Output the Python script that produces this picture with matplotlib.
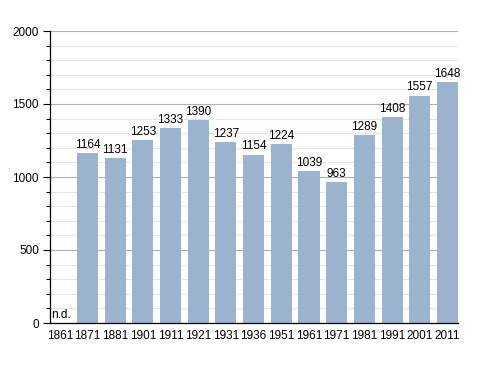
import matplotlib.pyplot as plt
import numpy as np

years = ["1861", "1871", "1881", "1901", "1911", "1921", "1931", "1936",
         "1951", "1961", "1971", "1981", "1991", "2001", "2011"]
population = [None, 1164, 1131, 1253, 1333, 1390, 1237, 1154,
              1224, 1039, 963, 1289, 1408, 1557, 1648]

plt.rcParams["font.family"] = ["Liberation Sans", "DejaVu Sans"]
fs = 8.5

fig = plt.figure(figsize=(4.88, 3.73), dpi=100)
ax = fig.add_axes([50 / 488, 1 - 323 / 373, 408 / 488, 292 / 373])

x = np.arange(len(years))
vals = [v if v is not None else 0 for v in population]
bar_color = "#9cb3cf"
ax.bar(x, vals, width=0.76, color=bar_color, zorder=3)

for xi, v in zip(x, population):
    if v is None:
        ax.text(xi - 0.32, 12, "n.d.", ha="left", va="bottom", fontsize=fs, zorder=4)
    else:
        ax.text(xi, v + 15, str(v), ha="center", va="bottom", fontsize=fs, zorder=4)

ax.set_xlim(-0.354, len(years) - 1 + 0.38)
ax.set_ylim(0, 2000)
ax.set_xticks(x)
ax.set_xticklabels(years, fontsize=fs)
ax.set_yticks(np.arange(0, 2001, 500))
ax.set_yticks(np.arange(0, 2001, 100), minor=True)
ax.tick_params(axis="y", labelsize=fs, length=5, width=0.8, pad=3)
ax.tick_params(axis="y", which="minor", length=3, width=0.8)
ax.tick_params(axis="x", length=0, pad=5)

ax.grid(axis="y", which="major", color="#b0b0b0", linewidth=0.8, zorder=0)
ax.grid(axis="y", which="minor", color="#e6e6e6", linewidth=0.8, zorder=0)

for s in ["top", "right"]:
    ax.spines[s].set_visible(False)
ax.spines["left"].set_linewidth(0.9)
ax.spines["bottom"].set_linewidth(0.9)
ax.spines["bottom"].set_zorder(5)

fig.savefig("out.png", dpi=100)
